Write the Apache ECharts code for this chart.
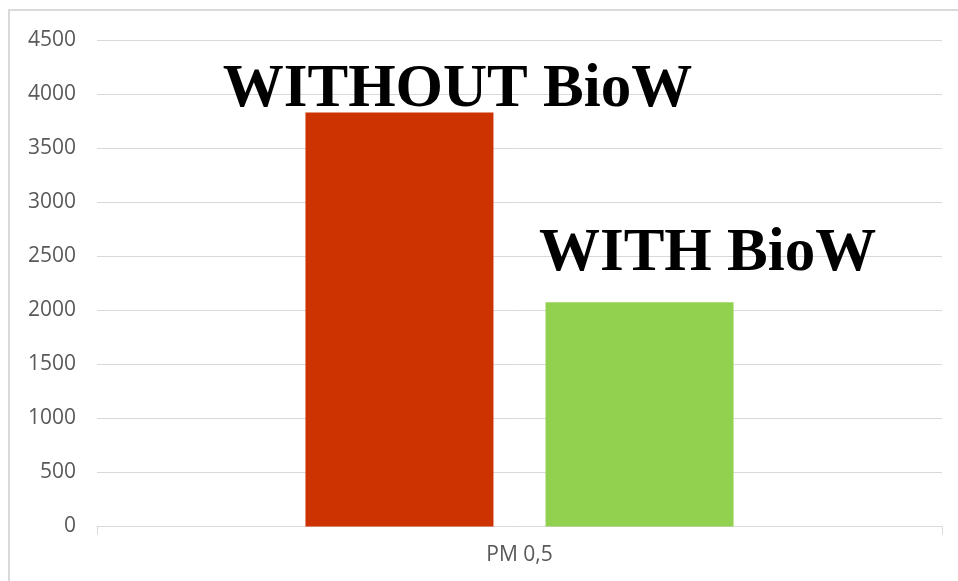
<!DOCTYPE html>
<html>
<head>
<meta charset="utf-8">
<script src="https://cdn.jsdelivr.net/npm/echarts@6/dist/echarts.min.js"></script>
<style>
  html, body { margin: 0; padding: 0; background: #fff; }
  #frame {
    position: absolute; left: 8px; top: 9px; width: 960px; height: 580px;
    border-left: 2px solid #d9d9d9; border-top: 2px solid #d9d9d9;
  }
  #chart { position: absolute; left: 0; top: 0; width: 958px; height: 581px; }
</style>
</head>
<body>
<div id="frame"></div>
<div id="chart"></div>
<script>
// 数据
const categories = ['PM 0,5'];
const seriesNames = ['WITHOUT BioW', 'WITH BioW'];
const withoutValues = [3830];
const withValues = [2075];
const yTicks = [0, 500, 1000, 1500, 2000, 2500, 3000, 3500, 4000, 4500];

let chartDom = document.getElementById('chart');
let myChart = echarts.init(chartDom);
let option;

// 柱子上方的大号标签
const bigLabel = {
  show: true,
  position: 'top',
  formatter: '{a}',
  fontFamily: 'Liberation Serif',
  fontWeight: 'bold',
  fontSize: 61,
  color: '#000'
};

option = {
  animation: false,
  grid: {
    left: 97,
    right: 16,
    top: 40,
    bottom: 54.5
  },
  xAxis: {
    type: 'category',
    data: categories,
    axisLine: { lineStyle: { color: '#d9d9d9', width: 1 } },
    axisTick: { show: true, length: 8, lineStyle: { color: '#d9d9d9' } },
    axisLabel: { color: '#595959', fontSize: 21, fontFamily: 'Open Sans', margin: 18 }
  },
  yAxis: {
    type: 'value',
    min: yTicks[0],
    max: yTicks[yTicks.length - 1],
    interval: yTicks[1] - yTicks[0],
    axisLine: { show: false },
    axisTick: { show: false },
    axisLabel: {
      color: '#595959', fontSize: 21, fontFamily: 'Open Sans', margin: 21,
      formatter: v => String(v)
    },
    splitLine: { lineStyle: { color: '#d9d9d9', width: 1 } }
  },
  series: [
    {
      name: seriesNames[0],
      type: 'bar',
      data: withoutValues,
      barWidth: 188,
      barGap: '27.7%',
      itemStyle: { color: '#cc3300' },
      label: Object.assign({}, bigLabel, { offset: [58, 13] })
    },
    {
      name: seriesNames[1],
      type: 'bar',
      data: withValues,
      barWidth: 188,
      itemStyle: { color: '#92d050' },
      label: Object.assign({}, bigLabel, { offset: [68, -12] })
    }
  ]
};

option && myChart.setOption(option);
</script>
</body>
</html>
